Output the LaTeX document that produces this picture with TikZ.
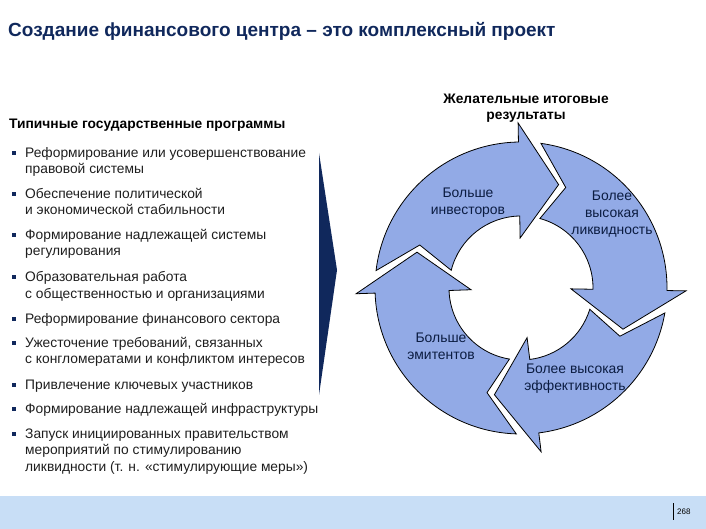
\documentclass[tikz,border=0pt]{standalone}
\usepackage{fontspec}
\setmainfont{Liberation Sans}
\definecolor{navy}{RGB}{16,40,92}
\definecolor{ringblue}{RGB}{146,170,230}
\definecolor{barblue}{RGB}{200,222,246}
\definecolor{txtgray}{RGB}{30,30,30}
\tikzset{
  bul/.style={anchor=base west, align=left, inner sep=0pt, text=txtgray,
    font=\fontsize{13.8}{16.5}\selectfont},
  hdr/.style={inner sep=0pt, font=\bfseries\fontsize{13.8}{16}\selectfont},
  lbl/.style={anchor=base, align=center, inner sep=0pt, text=navy!70!black,
    font=\fontsize{13.9}{16.8}\selectfont},
  ringarrow/.style={fill=ringblue, draw=black, line width=0.8pt, line join=miter}
}
\begin{document}
\begin{tikzpicture}[x=1pt,y=1pt]
\useasboundingbox (0,0) rectangle (706,529);
% bottom band and page number
\fill[barblue] (0,0) rectangle (706,33);
\node[anchor=base west, inner sep=0pt, font=\fontsize{8}{9}\selectfont] (pnum) at (677,14) {268};
\draw[line width=0.7pt] (673,9) -- (673,26);

% title
\node[anchor=base west, inner sep=0pt, text=navy,
  font=\bfseries\fontsize{19}{22}\selectfont] (title) at (8,492)
  {Создание финансового центра – это комплексный проект};

% left column (base = last line)
\node[hdr, anchor=base west] (progs) at (9,400.7) {Типичные государственные программы};
\node[bul] (b1) at (25,355) {Реформирование или усовершенствование\\правовой системы};
\node[bul] (b2) at (25,314) {Обеспечение политической\\и экономической стабильности};
\node[bul] (b3) at (25,273) {Формирование надлежащей системы\\регулирования};
\node[bul] (b4) at (25,230.5) {Образовательная работа\\с общественностью и организациями};
\node[bul] (b5) at (25,205) {Реформирование финансового сектора};
\node[bul] (b6) at (25,165) {Ужесточение требований, связанных\\с конгломератами и конфликтом интересов};
\node[bul] (b7) at (25,139.5) {Привлечение ключевых участников};
\node[bul] (b8) at (25,115) {Формирование надлежащей инфраструктуры};
\node[bul] (b9) at (25,57.5) {Запуск инициированных правительством\\мероприятий по стимулированию\\ликвидности (т. н. «стимулирующие меры»)};
\foreach \i in {1,...,9}
  \fill[navy] ([xshift=-13.5pt]b\i.north west) ++(0,-3.5) rectangle +(4,-4);

% wedge
\fill[navy] (319,376) -- (337,259) -- (319,134) -- cycle;

% right header
\node[hdr, anchor=base, align=center] (goals) at (526,409.7) {Желательные итоговые\\результаты};

% cycle of four arrows
\begin{scope}[shift={(521,241)}]
\foreach \B/\P in {91/182, -1/91, -83/-1, 182/277}
  \filldraw[ringarrow] ({\P-8.85}:146) arc[start angle={\P-8.85}, end angle=\B, radius=146]
    -- (\B:165) -- ({\B-21}:110) -- (\B:50) -- (\B:72)
    arc[start angle=\B, end angle={\P-16.22}, radius=72]
    -- ({\P-25}:110) -- cycle;
\end{scope}

\node[lbl] (inv) at (468,314.9) {Больше\\инвесторов};
\node[lbl] (liq) at (612,294.4) {Более\\высокая\\ликвидность};
\node[lbl] (emit) at (441,169.5) {Больше\\эмитентов};
\node[lbl] (eff) at (575,138.2) {Более высокая\\эффективность};
\end{tikzpicture}
\end{document}
